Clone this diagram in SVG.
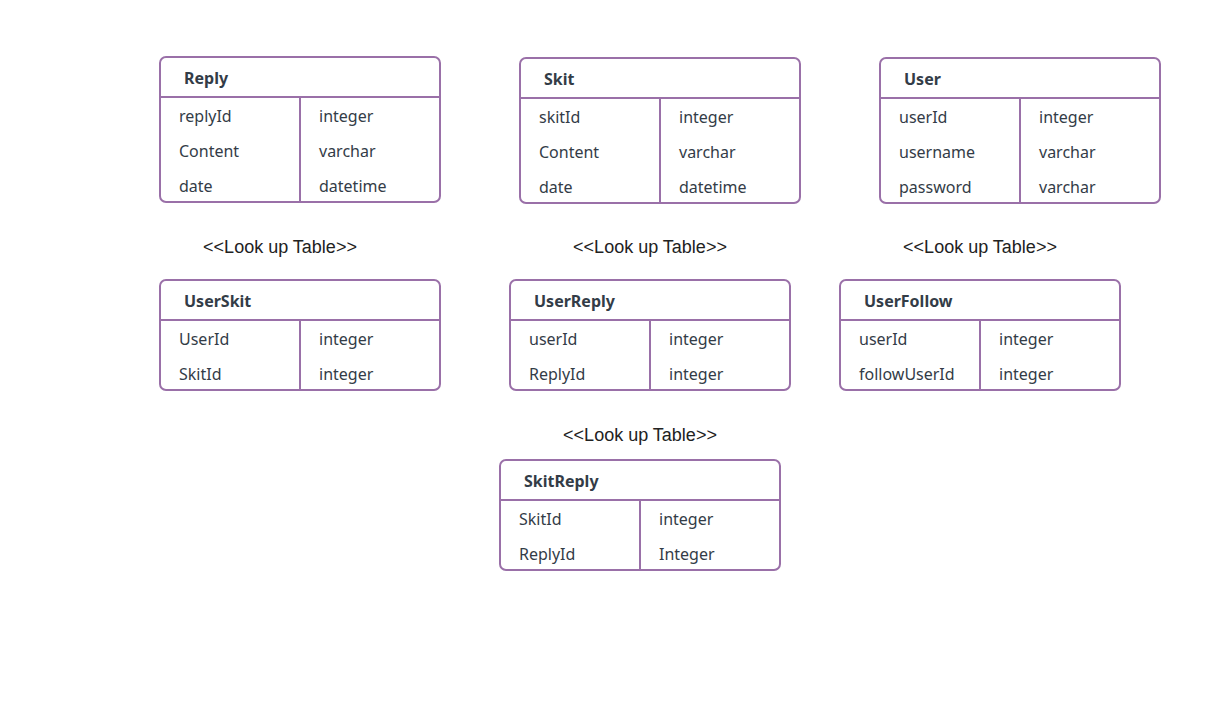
<svg xmlns="http://www.w3.org/2000/svg" width="1216" height="720" viewBox="0 0 1216 720">
<style>
.box{fill:#ffffff;stroke:#9a70a8;stroke-width:2}
.ln{stroke:#9a70a8;stroke-width:2;fill:none}
.h{font-family:"Noto Sans","Open Sans",sans-serif;font-weight:bold;font-size:16px;fill:#333c47}
.t{font-family:"Noto Sans","Open Sans",sans-serif;font-size:16px;fill:#333c47}
.lbl{font-family:"Liberation Sans",Arial,sans-serif;font-size:18px;fill:#222;text-anchor:middle}
</style>
<rect width="1216" height="720" fill="#ffffff"/>
<g id="Reply">
<rect class="box" x="160" y="57" width="280" height="145" rx="6"/>
<line class="ln" x1="160" y1="97" x2="440" y2="97"/>
<line class="ln" x1="300" y1="97" x2="300" y2="202"/>
<text class="h" x="184" y="84">Reply</text>
<text class="t" x="179" y="122">replyId</text><text class="t" x="319" y="122">integer</text>
<text class="t" x="179" y="157">Content</text><text class="t" x="319" y="157">varchar</text>
<text class="t" x="179" y="192">date</text><text class="t" x="319" y="192">datetime</text>
</g>
<g id="Skit">
<rect class="box" x="520" y="58" width="280" height="145" rx="6"/>
<line class="ln" x1="520" y1="98" x2="800" y2="98"/>
<line class="ln" x1="660" y1="98" x2="660" y2="203"/>
<text class="h" x="544" y="85">Skit</text>
<text class="t" x="539" y="123">skitId</text><text class="t" x="679" y="123">integer</text>
<text class="t" x="539" y="158">Content</text><text class="t" x="679" y="158">varchar</text>
<text class="t" x="539" y="193">date</text><text class="t" x="679" y="193">datetime</text>
</g>
<g id="User">
<rect class="box" x="880" y="58" width="280" height="145" rx="6"/>
<line class="ln" x1="880" y1="98" x2="1160" y2="98"/>
<line class="ln" x1="1020" y1="98" x2="1020" y2="203"/>
<text class="h" x="904" y="85">User</text>
<text class="t" x="899" y="123">userId</text><text class="t" x="1039" y="123">integer</text>
<text class="t" x="899" y="158">username</text><text class="t" x="1039" y="158">varchar</text>
<text class="t" x="899" y="193">password</text><text class="t" x="1039" y="193">varchar</text>
</g>
<g id="labels">
<text class="lbl" x="280" y="253">&lt;&lt;Look up Table&gt;&gt;</text>
<text class="lbl" x="650" y="253">&lt;&lt;Look up Table&gt;&gt;</text>
<text class="lbl" x="980" y="253">&lt;&lt;Look up Table&gt;&gt;</text>
<text class="lbl" x="640" y="441">&lt;&lt;Look up Table&gt;&gt;</text>
</g>
<g id="UserSkit">
<rect class="box" x="160" y="280" width="280" height="110" rx="6"/>
<line class="ln" x1="160" y1="320" x2="440" y2="320"/>
<line class="ln" x1="300" y1="320" x2="300" y2="390"/>
<text class="h" x="184" y="307">UserSkit</text>
<text class="t" x="179" y="345">UserId</text><text class="t" x="319" y="345">integer</text>
<text class="t" x="179" y="380">SkitId</text><text class="t" x="319" y="380">integer</text>
</g>
<g id="UserReply">
<rect class="box" x="510" y="280" width="280" height="110" rx="6"/>
<line class="ln" x1="510" y1="320" x2="790" y2="320"/>
<line class="ln" x1="650" y1="320" x2="650" y2="390"/>
<text class="h" x="534" y="307">UserReply</text>
<text class="t" x="529" y="345">userId</text><text class="t" x="669" y="345">integer</text>
<text class="t" x="529" y="380">ReplyId</text><text class="t" x="669" y="380">integer</text>
</g>
<g id="UserFollow">
<rect class="box" x="840" y="280" width="280" height="110" rx="6"/>
<line class="ln" x1="840" y1="320" x2="1120" y2="320"/>
<line class="ln" x1="980" y1="320" x2="980" y2="390"/>
<text class="h" x="864" y="307">UserFollow</text>
<text class="t" x="859" y="345">userId</text><text class="t" x="999" y="345">integer</text>
<text class="t" x="859" y="380">followUserId</text><text class="t" x="999" y="380">integer</text>
</g>
<g id="SkitReply">
<rect class="box" x="500" y="460" width="280" height="110" rx="6"/>
<line class="ln" x1="500" y1="500" x2="780" y2="500"/>
<line class="ln" x1="640" y1="500" x2="640" y2="570"/>
<text class="h" x="524" y="487">SkitReply</text>
<text class="t" x="519" y="525">SkitId</text><text class="t" x="659" y="525">integer</text>
<text class="t" x="519" y="560">ReplyId</text><text class="t" x="659" y="560">Integer</text>
</g>
<g id="connectors"></g>
</svg>
